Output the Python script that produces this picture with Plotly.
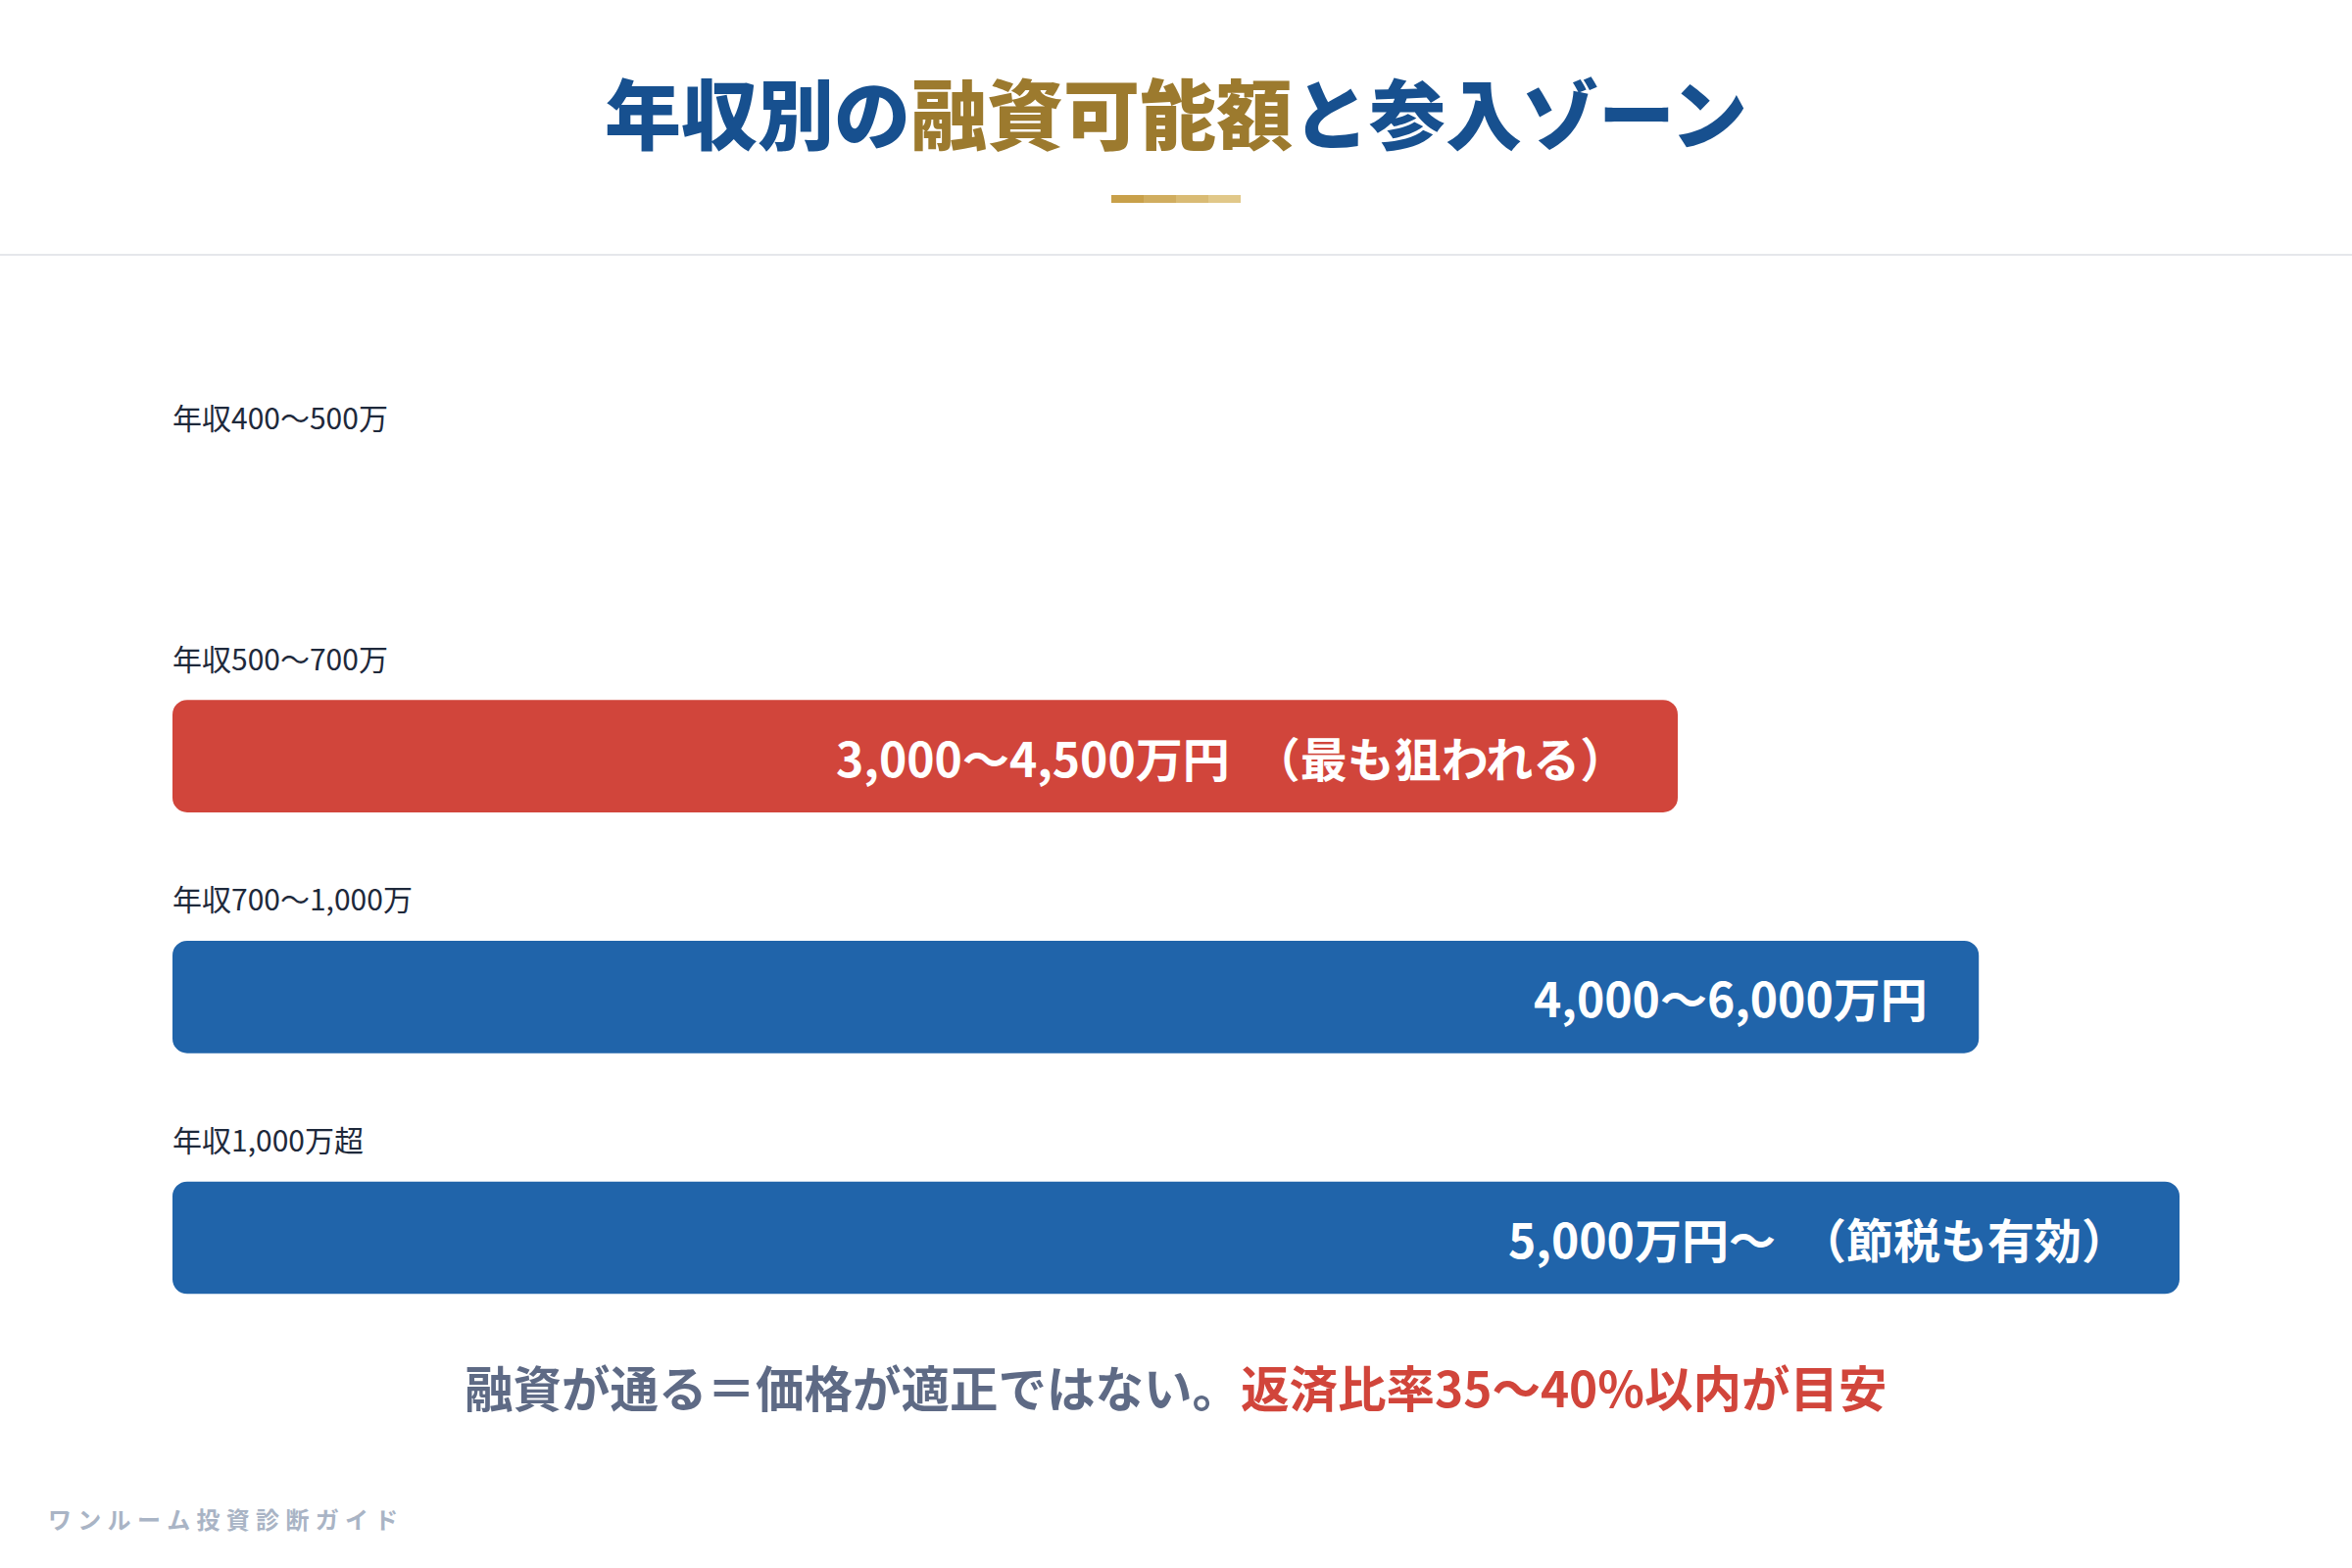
import plotly.graph_objects as go

# rows: income band, loan range shown as bar width (% of the widest bar)
income_labels = ["年収400〜500万", "年収500〜700万", "年収700〜1,000万", "年収1,000万超"]
bar_widths = [0, 75, 90, 100]
bar_base = [0, 0, 0, 0]
range_texts = ["", "3,000〜4,500万円\u2002（最も狙われる）", "4,000〜6,000万円", "5,000万円〜\u2002（節税も有効）"]
bar_colors = ["#2064aa", "#d1453b", "#2064aa", "#2064aa"]

title_blue = "年収別の"
title_gold = "融資可能額"
title_blue2 = "と参入ゾーン"
note_gray = "融資が通る＝価格が適正ではない。"
note_red = "返済比率35〜40%以内が目安"
brand = "ワンルーム投資診断ガイド"

FONT = "Noto Sans CJK JP"

fig = go.Figure()

# explicit base -> plotly rounds both ends of the bar
fig.add_trace(go.Bar(
    y=income_labels, x=bar_widths, base=bar_base, orientation="h",
    marker=dict(color=bar_colors, line=dict(width=0), cornerradius=15),
    hoverinfo="skip", showlegend=False,
))

annotations = []
for lab, v, txt in zip(income_labels, bar_widths, range_texts):
    # row label above the bar
    annotations.append(dict(
        x=0, y=lab, xref="x", yref="y", text=lab, showarrow=False,
        xanchor="left", yanchor="middle", yshift=101, xshift=-2,
        font=dict(family=FONT, size=30, color="#1e293b"),
    ))
    if txt:
        annotations.append(dict(
            x=v, y=lab, xref="x", yref="y", text=txt, showarrow=False,
            xanchor="right", yanchor="middle", xshift=-50,
            font=dict(family=FONT, size=48, color="white", weight=700),
        ))

annotations.append(dict(
    x=0.5, y=0, xref="paper", yref="paper", showarrow=False,
    xanchor="center", yanchor="middle", yshift=-26,
    text=f"{note_gray}<span style='color:#d1453b'>{note_red}</span>",
    font=dict(family=FONT, size=49.5, color="#5e6a85", weight=700),
))
annotations.append(dict(
    x=0, y=0, xref="paper", yref="paper", showarrow=False,
    xanchor="left", yanchor="middle", xshift=-129, yshift=-161,
    text="\u2009\u200a".join(brand),
    font=dict(family=FONT, size=24, color="#a9b4c5", weight=700),
))

shapes = [
    # thin separator under the header
    dict(type="line", xref="paper", yref="paper", xsizemode="pixel", ysizemode="pixel",
         xanchor=0.5, yanchor=1, x0=-1200, x1=1200, y0=143, y1=143,
         line=dict(color="#e5e7eb", width=2)),
]
# gold underline under the title, in a few bands to imitate the gradient
gold_bands = ["#c8a04a", "#d0ad5f", "#d9bb74", "#e1c889"]
for i, c in enumerate(gold_bands):
    shapes.append(dict(type="rect", xref="paper", yref="paper", xsizemode="pixel", ysizemode="pixel",
                       xanchor=0.5, yanchor=1, x0=-66 + i * 33, x1=-66 + (i + 1) * 33 + (0.5 if i < 3 else 0),
                       y0=196, y1=204, fillcolor=c, line=dict(width=0), layer="above"))

fig.update_layout(
    width=2400, height=1600,
    margin=dict(l=176, r=176, t=403, b=212),
    paper_bgcolor="white", plot_bgcolor="white",
    barmode="overlay", bargap=0.533,
    title=dict(
        text=f"{title_blue}<span style='color:#9c7a2e'>{title_gold}</span>{title_blue2}",
        x=0.5, xref="paper", xanchor="center",
        y=1 - 120 / 1600, yref="container", yanchor="middle",
        font=dict(family=FONT, size=78, color="#17508f", weight=900),
    ),
    xaxis=dict(range=[0, 100], visible=False, fixedrange=True),
    yaxis=dict(type="category", categoryorder="array", categoryarray=income_labels,
               autorange="reversed", visible=False, fixedrange=True),
    annotations=annotations,
    shapes=shapes,
    font=dict(family=FONT),
)

fig.write_html("out.html", config={"displayModeBar": False},
               post_script="document.body.style.margin='0';")
